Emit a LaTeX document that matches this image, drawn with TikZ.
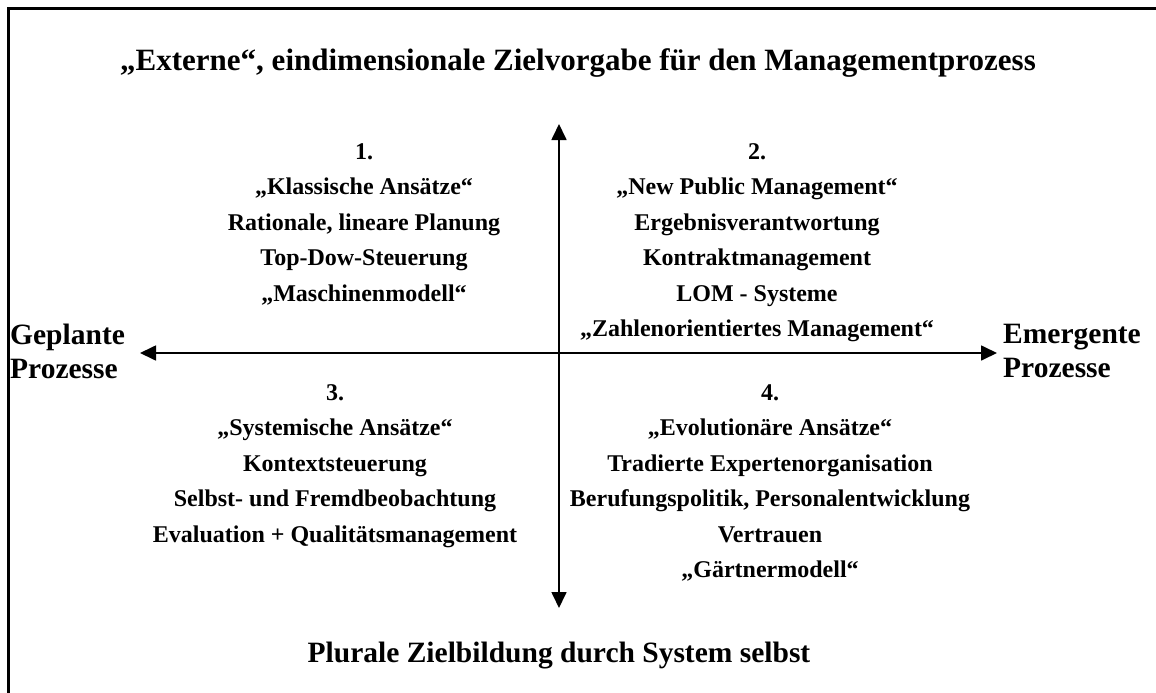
\documentclass[tikz,border=0pt]{standalone}
\usepackage{fontspec}
\setmainfont{Liberation Serif}
\usetikzlibrary{arrows.meta}
\tikzset{
  frameline/.style={line width=2.2pt},
  axis/.style={line width=1.7pt,{Triangle[length=16pt,width=15pt]}-{Triangle[length=16pt,width=15pt]}},
  titletext/.style={inner sep=0pt,font=\bfseries\fontsize{31}{36}\selectfont},
  bottomtext/.style={inner sep=0pt,font=\bfseries\fontsize{29.5}{34}\selectfont},
  sidetext/.style={inner sep=0pt,align=left,font=\bfseries\fontsize{29.5}{34}\selectfont},
  quadtext/.style={inner sep=0pt,align=center,anchor=north,font=\bfseries\fontsize{24}{35.5}\selectfont}
}
\begin{document}
\begin{tikzpicture}[x=1pt,y=-1pt]
\useasboundingbox (0,0) rectangle (1156,693);
\clip (0,0) rectangle (1156,693);
\draw[frameline] (8.5,700) -- (8.5,8.5) -- (1165,8.5);
\node[titletext] (title) at (578,63) {„Externe“, eindimensionale Zielvorgabe für den Managementprozess};
\node[bottomtext] (bottom) at (559,656) {Plurale Zielbildung durch System selbst};
\coordinate (top) at (559,124);
\coordinate (bot) at (559,608);
\coordinate (left) at (140,353);
\coordinate (right) at (997,353);
\draw[axis] (top) -- (bot);
\draw[axis] (left) -- (right);
\node[sidetext,anchor=north west] (geplant) at (10,324) {Geplante\\Prozesse};
\node[sidetext,anchor=north west] (emergent) at (1003,324) {Emergente\\Prozesse};
\node[quadtext] (q1) at (364,143) {1.\\„Klassische Ansätze“\\Rationale, lineare Planung\\Top-Dow-Steuerung\\„Maschinenmodell“};
\node[quadtext] (q2) at (757,143) {2.\\„New Public Management“\\Ergebnisverantwortung\\Kontraktmanagement\\LOM - Systeme\\„Zahlenorientiertes Management“};
\node[quadtext] (q3) at (335,384) {3.\\„Systemische Ansätze“\\Kontextsteuerung\\Selbst- und Fremdbeobachtung\\Evaluation + Qualitätsmanagement};
\node[quadtext] (q4) at (770,384) {4.\\„Evolutionäre Ansätze“\\Tradierte Expertenorganisation\\Berufungspolitik, Personalentwicklung\\Vertrauen\\„Gärtnermodell“};
\end{tikzpicture}
\end{document}
